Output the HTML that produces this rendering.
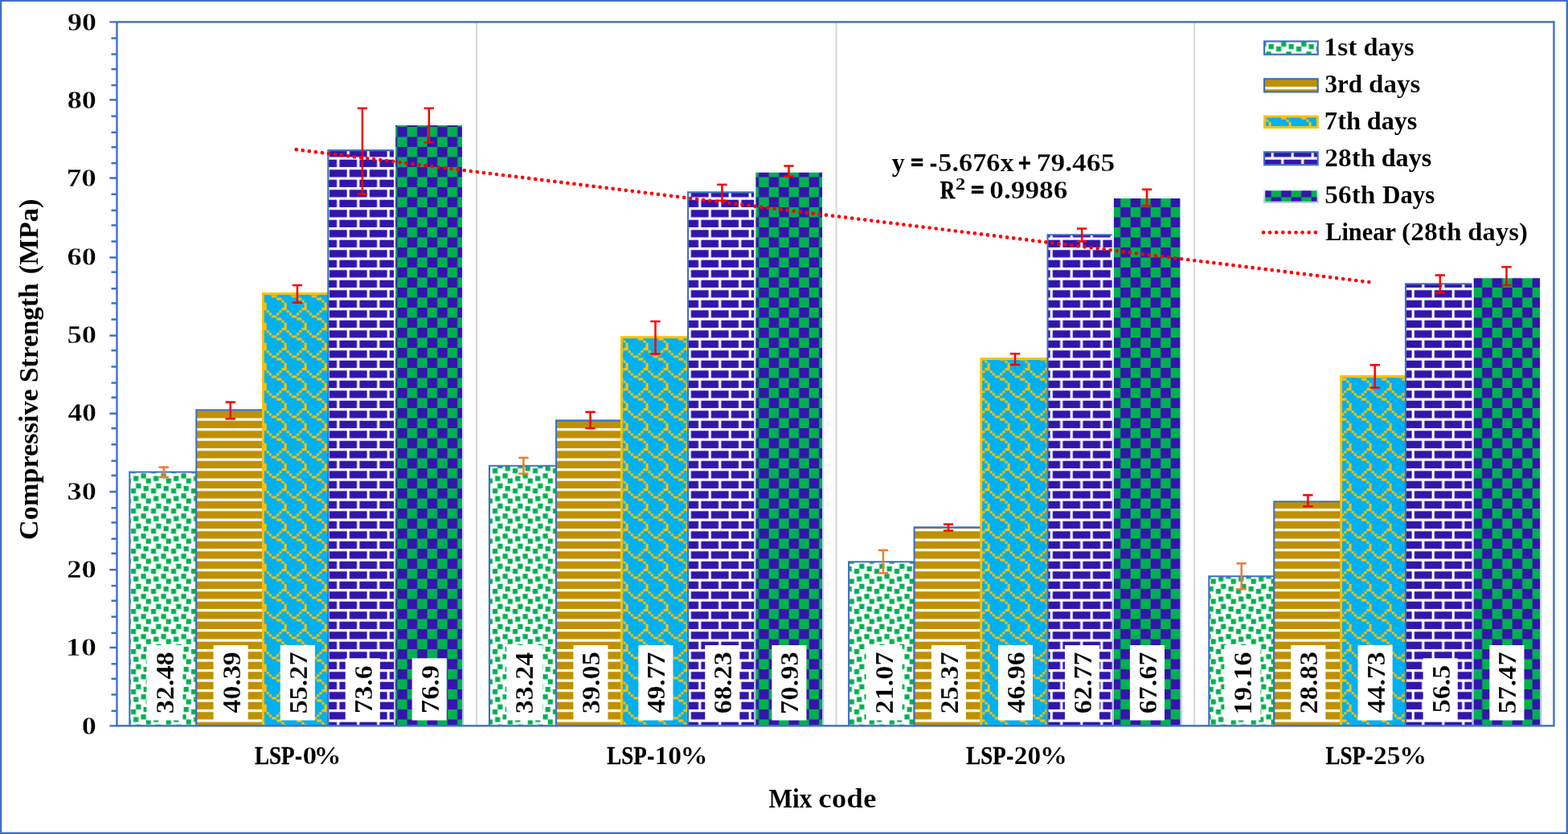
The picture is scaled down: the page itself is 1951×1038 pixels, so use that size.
<!DOCTYPE html>
<html><head><meta charset="utf-8"><title>Compressive Strength chart</title><style>html,body{margin:0;padding:0;background:#fff;}svg{display:block;}</style></head><body><svg width="1951" height="1038" viewBox="0 0 1951 1038" font-family="'Liberation Serif', serif" font-weight="bold" fill="#000"><defs><pattern id="p1" patternUnits="userSpaceOnUse" x="6.65" y="7.9" width="25" height="25"><rect x="-1" y="-1" width="27" height="27" fill="#FFFFFF"/><path d="M0 0h3.125v3.125h-3.125zM0 21.875h3.125v3.125h-3.125zM6.25 0h6.25v6.25h-6.25zM21.875 0h3.125v3.125h-3.125zM21.875 21.875h3.125v3.125h-3.125zM18.75 6.25h6.25v6.25h-6.25zM9.375 9.375h6.25v6.25h-6.25zM0 12.5h6.25v6.25h-6.25zM12.5 18.75h6.25v6.25h-6.25z" fill="#00B050"/></pattern><pattern id="p2" patternUnits="userSpaceOnUse" x="6.65" y="7.9" width="25" height="25"><rect x="-1" y="-1" width="27" height="27" fill="#BF9000"/><path d="M0 0h25v3.125h-25zM0 12.5h25v3.125h-25z" fill="#FFFFFF"/></pattern><pattern id="p3" patternUnits="userSpaceOnUse" x="6.65" y="7.9" width="25" height="25"><rect x="-1" y="-1" width="27" height="27" fill="#00B0F0"/><path d="M18.75 0h6.25v3.125h-6.25zM0 3.125h3.125v3.125h-3.125zM15.625 3.125h3.125v3.125h-3.125zM3.125 6.25h3.125v3.125h-3.125zM12.5 6.25h3.125v3.125h-3.125zM6.25 9.375h6.25v3.125h-6.25zM12.5 12.5h6.25v3.125h-6.25zM18.75 15.625h3.125v3.125h-3.125zM21.875 18.75h3.125v6.25h-3.125z" fill="#FFC000"/></pattern><pattern id="p4" patternUnits="userSpaceOnUse" x="6.65" y="7.9" width="25" height="25"><rect x="-1" y="-1" width="27" height="27" fill="#3315AB"/><path d="M0 0h25v3.125h-25zM0 12.5h25v3.125h-25zM0 3.125h3.125v9.375h-3.125zM12.5 15.625h3.125v9.375h-3.125z" fill="#FFFFFF"/></pattern><pattern id="p5" patternUnits="userSpaceOnUse" x="6.65" y="7.9" width="25" height="25"><rect x="-1" y="-1" width="27" height="27" fill="#00B050"/><path d="M12.5 0h12.5v12.5h-12.5zM0 12.5h12.5v12.5h-12.5z" fill="#3315AB"/></pattern><linearGradient id="g5" x1="0" y1="0" x2="0" y2="1"><stop offset="0" stop-color="#F4F6FC"/><stop offset="1" stop-color="#B4C3E8"/></linearGradient><linearGradient id="g5b" x1="0" y1="0" x2="0" y2="1"><stop offset="0" stop-color="#EEF1FA"/><stop offset="1" stop-color="#B4C3E8"/></linearGradient></defs>
<rect x="0" y="0" width="1951" height="1038" fill="#FFFFFF"/>
<g stroke="#D9D9D9" stroke-width="2.1">
<line x1="592.85" y1="27.35" x2="592.85" y2="903.35"/>
<line x1="1040.5" y1="27.35" x2="1040.5" y2="903.35"/>
<line x1="1486.2" y1="27.35" x2="1486.2" y2="903.35"/>
</g>
<rect x="161.30" y="587.50" width="83.00" height="315.85" fill="url(#p1)"/>
<path d="M161.30 903.35V587.50H244.30V903.35" fill="none" stroke="#4070C3" stroke-width="2.1"/>
<rect x="244.30" y="510.40" width="82.90" height="392.95" fill="url(#p2)"/>
<path d="M244.30 903.35V510.40H327.20V903.35" fill="none" stroke="#4070C3" stroke-width="2.1"/>
<rect x="327.20" y="365.50" width="83.00" height="537.85" fill="url(#p3)"/>
<path d="M327.35 903.35V365.50H410.20V903.35" fill="none" stroke="#FFC000" stroke-width="2.9"/>
<rect x="408.30" y="187.10" width="82.75" height="716.25" fill="url(#p4)"/>
<path d="M408.30 903.35V187.10H491.05V903.35" fill="none" stroke="#4070C3" stroke-width="2.1"/>
<rect x="491.05" y="154.95" width="85.00" height="748.40" fill="url(#p5)"/>
<path d="M491.05 903.35V154.95H576.05V903.35" fill="none" stroke="url(#g5)" stroke-width="2.25"/>
<rect x="608.90" y="579.70" width="83.10" height="323.65" fill="url(#p1)"/>
<path d="M608.90 903.35V579.70H692.00V903.35" fill="none" stroke="#4070C3" stroke-width="2.1"/>
<rect x="692.00" y="523.40" width="81.20" height="379.95" fill="url(#p2)"/>
<path d="M692.00 903.35V523.40H773.20V903.35" fill="none" stroke="#4070C3" stroke-width="2.1"/>
<rect x="773.20" y="419.80" width="83.00" height="483.55" fill="url(#p3)"/>
<path d="M773.35 903.35V419.80H856.20V903.35" fill="none" stroke="#FFC000" stroke-width="2.9"/>
<rect x="856.10" y="239.40" width="83.20" height="663.95" fill="url(#p4)"/>
<path d="M856.10 903.35V239.40H939.30V903.35" fill="none" stroke="#4070C3" stroke-width="2.1"/>
<rect x="939.30" y="213.50" width="84.80" height="689.85" fill="url(#p5)"/>
<path d="M939.30 903.35V213.50H1024.10V903.35" fill="none" stroke="url(#g5)" stroke-width="2.25"/>
<rect x="1056.10" y="699.30" width="81.50" height="204.05" fill="url(#p1)"/>
<path d="M1056.10 903.35V699.30H1137.60V903.35" fill="none" stroke="#4070C3" stroke-width="2.1"/>
<rect x="1137.60" y="656.40" width="83.00" height="246.95" fill="url(#p2)"/>
<path d="M1137.60 903.35V656.40H1220.60V903.35" fill="none" stroke="#4070C3" stroke-width="2.1"/>
<rect x="1220.60" y="446.55" width="83.00" height="456.80" fill="url(#p3)"/>
<path d="M1220.75 903.35V446.55H1303.60V903.35" fill="none" stroke="#FFC000" stroke-width="2.9"/>
<rect x="1303.55" y="292.20" width="81.25" height="611.15" fill="url(#p4)"/>
<path d="M1303.55 903.35V292.20H1384.80V903.35" fill="none" stroke="#4070C3" stroke-width="2.1"/>
<rect x="1384.80" y="245.90" width="84.70" height="657.45" fill="url(#p5)"/>
<path d="M1384.80 903.35V245.90H1469.50V903.35" fill="none" stroke="url(#g5)" stroke-width="2.25"/>
<rect x="1504.30" y="717.20" width="80.95" height="186.15" fill="url(#p1)"/>
<path d="M1504.30 903.35V717.20H1585.25V903.35" fill="none" stroke="#4070C3" stroke-width="2.1"/>
<rect x="1585.25" y="624.30" width="83.20" height="279.05" fill="url(#p2)"/>
<path d="M1585.25 903.35V624.30H1668.45V903.35" fill="none" stroke="#4070C3" stroke-width="2.1"/>
<rect x="1668.45" y="468.55" width="83.00" height="434.80" fill="url(#p3)"/>
<path d="M1668.60 903.35V468.55H1751.45V903.35" fill="none" stroke="#FFC000" stroke-width="2.9"/>
<rect x="1749.00" y="353.30" width="83.60" height="550.05" fill="url(#p4)"/>
<path d="M1749.00 903.35V353.30H1832.60V903.35" fill="none" stroke="#4070C3" stroke-width="2.1"/>
<rect x="1832.60" y="345.05" width="84.60" height="558.30" fill="url(#p5)"/>
<path d="M1832.60 903.35V345.05H1917.20V903.35" fill="none" stroke="url(#g5)" stroke-width="2.25"/>
<rect x="145.45" y="27.35" width="1788.0" height="876.0" fill="none" stroke="#4070C3" stroke-width="2.4"/>
<g stroke="#4070C3" stroke-width="2.5">
<line x1="138.5" y1="47.55" x2="145.45" y2="47.55"/>
<line x1="138.5" y1="67.50" x2="145.45" y2="67.50"/>
<line x1="138.5" y1="86.10" x2="145.45" y2="86.10"/>
<line x1="138.5" y1="106.05" x2="145.45" y2="106.05"/>
<line x1="136.4" y1="124.30" x2="145.45" y2="124.30"/>
<line x1="138.5" y1="144.60" x2="145.45" y2="144.60"/>
<line x1="138.5" y1="164.80" x2="145.45" y2="164.80"/>
<line x1="138.5" y1="183.20" x2="145.45" y2="183.20"/>
<line x1="138.5" y1="203.10" x2="145.45" y2="203.10"/>
<line x1="136.4" y1="221.60" x2="145.45" y2="221.60"/>
<line x1="138.5" y1="241.80" x2="145.45" y2="241.80"/>
<line x1="138.5" y1="261.90" x2="145.45" y2="261.90"/>
<line x1="138.5" y1="280.40" x2="145.45" y2="280.40"/>
<line x1="138.5" y1="300.50" x2="145.45" y2="300.50"/>
<line x1="136.4" y1="320.50" x2="145.45" y2="320.50"/>
<line x1="138.5" y1="338.65" x2="145.45" y2="338.65"/>
<line x1="138.5" y1="359.20" x2="145.45" y2="359.20"/>
<line x1="138.5" y1="377.40" x2="145.45" y2="377.40"/>
<line x1="138.5" y1="397.60" x2="145.45" y2="397.60"/>
<line x1="136.4" y1="417.65" x2="145.45" y2="417.65"/>
<line x1="138.5" y1="436.20" x2="145.45" y2="436.20"/>
<line x1="138.5" y1="456.40" x2="145.45" y2="456.40"/>
<line x1="138.5" y1="476.50" x2="145.45" y2="476.50"/>
<line x1="138.5" y1="494.70" x2="145.45" y2="494.70"/>
<line x1="136.4" y1="514.70" x2="145.45" y2="514.70"/>
<line x1="138.5" y1="533.10" x2="145.45" y2="533.10"/>
<line x1="138.5" y1="553.20" x2="145.45" y2="553.20"/>
<line x1="138.5" y1="573.60" x2="145.45" y2="573.60"/>
<line x1="138.5" y1="591.80" x2="145.45" y2="591.80"/>
<line x1="136.4" y1="612.00" x2="145.45" y2="612.00"/>
<line x1="138.5" y1="632.20" x2="145.45" y2="632.20"/>
<line x1="138.5" y1="650.40" x2="145.45" y2="650.40"/>
<line x1="138.5" y1="670.60" x2="145.45" y2="670.60"/>
<line x1="138.5" y1="688.80" x2="145.45" y2="688.80"/>
<line x1="136.4" y1="709.10" x2="145.45" y2="709.10"/>
<line x1="138.5" y1="729.05" x2="145.45" y2="729.05"/>
<line x1="138.5" y1="747.70" x2="145.45" y2="747.70"/>
<line x1="138.5" y1="767.60" x2="145.45" y2="767.60"/>
<line x1="138.5" y1="787.90" x2="145.45" y2="787.90"/>
<line x1="136.4" y1="806.00" x2="145.45" y2="806.00"/>
<line x1="138.5" y1="826.30" x2="145.45" y2="826.30"/>
<line x1="138.5" y1="844.80" x2="145.45" y2="844.80"/>
<line x1="138.5" y1="864.50" x2="145.45" y2="864.50"/>
<line x1="138.5" y1="884.80" x2="145.45" y2="884.80"/>
</g>
<path d="M136.4 27.35H145.45M136.4 903.35H145.45" stroke="#4070C3" stroke-width="2.3" fill="none"/>
<rect x="182.45" y="803.0" width="45.0" height="93.50" fill="#FFFFFF"/>
<text transform="rotate(-90)" y="215.55" font-size="31.1"><tspan x="-888.28" textLength="77.00" lengthAdjust="spacingAndGlyphs" stroke="#fff" stroke-width="0.18">32.48</tspan></text>
<rect x="265.55" y="803.0" width="43.1" height="93.50" fill="#FFFFFF"/>
<text transform="rotate(-90)" y="298.50" font-size="31.1"><tspan x="-887.42" textLength="76.21" lengthAdjust="spacingAndGlyphs" stroke="#fff" stroke-width="0.16">40.39</tspan></text>
<rect x="348.75" y="803.0" width="43.1" height="93.50" fill="#FFFFFF"/>
<text transform="rotate(-90)" y="381.70" font-size="31.1"><tspan x="-888.37" textLength="76.82" lengthAdjust="spacingAndGlyphs" stroke="#fff" stroke-width="0.18">55.27</tspan></text>
<rect x="429.72" y="819.3" width="43.1" height="77.20" fill="#FFFFFF"/>
<text transform="rotate(-90)" y="462.67" font-size="31.1"><tspan x="-887.97" textLength="59.89" lengthAdjust="spacingAndGlyphs" stroke="#fff" stroke-width="0.18">73.6</tspan></text>
<rect x="512.65" y="819.3" width="43.1" height="77.20" fill="#FFFFFF"/>
<text transform="rotate(-90)" y="545.60" font-size="31.1"><tspan x="-887.97" textLength="60.08" lengthAdjust="spacingAndGlyphs" stroke="#fff" stroke-width="0.19">76.9</tspan></text>
<rect x="630.10" y="803.0" width="45.0" height="93.50" fill="#FFFFFF"/>
<text transform="rotate(-90)" y="663.20" font-size="31.1"><tspan x="-888.27" textLength="76.47" lengthAdjust="spacingAndGlyphs" stroke="#fff" stroke-width="0.17">33.24</tspan></text>
<rect x="713.35" y="803.0" width="43.1" height="93.50" fill="#FFFFFF"/>
<text transform="rotate(-90)" y="746.30" font-size="31.1"><tspan x="-888.29" textLength="77.17" lengthAdjust="spacingAndGlyphs" stroke="#fff" stroke-width="0.19">39.05</tspan></text>
<rect x="794.35" y="803.0" width="43.1" height="93.50" fill="#FFFFFF"/>
<text transform="rotate(-90)" y="827.30" font-size="31.1"><tspan x="-887.42" textLength="75.86" lengthAdjust="spacingAndGlyphs" stroke="#fff" stroke-width="0.15">49.77</tspan></text>
<rect x="877.25" y="803.0" width="43.1" height="93.50" fill="#FFFFFF"/>
<text transform="rotate(-90)" y="910.20" font-size="31.1"><tspan x="-888.20" textLength="77.00" lengthAdjust="spacingAndGlyphs" stroke="#fff" stroke-width="0.18">68.23</tspan></text>
<rect x="960.35" y="803.0" width="43.1" height="93.50" fill="#FFFFFF"/>
<text transform="rotate(-90)" y="993.30" font-size="31.1"><tspan x="-888.99" textLength="77.80" lengthAdjust="spacingAndGlyphs" stroke="#fff" stroke-width="0.20">70.93</tspan></text>
<rect x="1077.60" y="803.0" width="45.0" height="93.50" fill="#FFFFFF"/>
<text transform="rotate(-90)" y="1110.70" font-size="31.1"><tspan x="-888.45" textLength="76.91" lengthAdjust="spacingAndGlyphs" stroke="#fff" stroke-width="0.18">21.07</tspan></text>
<rect x="1158.85" y="803.0" width="43.1" height="93.50" fill="#FFFFFF"/>
<text transform="rotate(-90)" y="1191.80" font-size="31.1"><tspan x="-888.45" textLength="76.91" lengthAdjust="spacingAndGlyphs" stroke="#fff" stroke-width="0.18">25.37</tspan></text>
<rect x="1241.90" y="803.0" width="43.1" height="93.50" fill="#FFFFFF"/>
<text transform="rotate(-90)" y="1274.85" font-size="31.1"><tspan x="-887.42" textLength="76.04" lengthAdjust="spacingAndGlyphs" stroke="#fff" stroke-width="0.16">46.96</tspan></text>
<rect x="1324.95" y="803.0" width="43.1" height="93.50" fill="#FFFFFF"/>
<text transform="rotate(-90)" y="1357.90" font-size="31.1"><tspan x="-888.19" textLength="76.64" lengthAdjust="spacingAndGlyphs" stroke="#fff" stroke-width="0.17">62.77</tspan></text>
<rect x="1405.90" y="803.0" width="43.1" height="93.50" fill="#FFFFFF"/>
<text transform="rotate(-90)" y="1438.85" font-size="31.1"><tspan x="-888.19" textLength="76.64" lengthAdjust="spacingAndGlyphs" stroke="#fff" stroke-width="0.17">67.67</tspan></text>
<rect x="1523.40" y="803.0" width="45.0" height="93.50" fill="#FFFFFF"/>
<text transform="rotate(-90)" y="1556.50" font-size="31.1"><tspan x="-889.79" textLength="78.43" lengthAdjust="spacingAndGlyphs" stroke="#fff" stroke-width="0.22">19.16</tspan></text>
<rect x="1606.25" y="803.0" width="43.1" height="93.50" fill="#FFFFFF"/>
<text transform="rotate(-90)" y="1639.20" font-size="31.1"><tspan x="-888.46" textLength="77.26" lengthAdjust="spacingAndGlyphs" stroke="#fff" stroke-width="0.19">28.83</tspan></text>
<rect x="1689.55" y="803.0" width="43.1" height="93.50" fill="#FFFFFF"/>
<text transform="rotate(-90)" y="1722.50" font-size="31.1"><tspan x="-887.42" textLength="76.21" lengthAdjust="spacingAndGlyphs" stroke="#fff" stroke-width="0.16">44.73</tspan></text>
<rect x="1770.65" y="819.3" width="43.1" height="77.20" fill="#FFFFFF"/>
<text transform="rotate(-90)" y="1803.60" font-size="31.1"><tspan x="-887.36" textLength="59.54" lengthAdjust="spacingAndGlyphs" stroke="#fff" stroke-width="0.17">56.5</tspan></text>
<rect x="1853.35" y="803.0" width="43.1" height="93.50" fill="#FFFFFF"/>
<text transform="rotate(-90)" y="1886.30" font-size="31.1"><tspan x="-888.37" textLength="76.82" lengthAdjust="spacingAndGlyphs" stroke="#fff" stroke-width="0.18">57.47</tspan></text>
<path d="M197.55 581.40H209.95M203.75 581.40V593.70M197.55 593.70H209.95" stroke="#ED7D31" stroke-width="2.5" fill="none"/>
<path d="M280.50 500.50H292.90M286.70 500.50V521.30M280.50 521.30H292.90" stroke="#FF0000" stroke-width="2.5" fill="none"/>
<path d="M363.70 355.10H376.10M369.90 355.10V376.80M363.70 376.80H376.10" stroke="#FF0000" stroke-width="2.5" fill="none"/>
<path d="M444.67 134.80H457.07M450.87 134.80V241.80M444.67 241.80H457.07" stroke="#FF0000" stroke-width="2.5" fill="none"/>
<path d="M527.60 134.80H540.00M533.80 134.80V177.20M527.60 177.20H540.00" stroke="#FF0000" stroke-width="2.5" fill="none"/>
<path d="M645.20 569.70H657.60M651.40 569.70V589.60M645.20 589.60H657.60" stroke="#ED7D31" stroke-width="2.5" fill="none"/>
<path d="M728.30 512.70H740.70M734.50 512.70V532.90M728.30 532.90H740.70" stroke="#FF0000" stroke-width="2.5" fill="none"/>
<path d="M809.30 399.90H821.70M815.50 399.90V440.45M809.30 440.45H821.70" stroke="#FF0000" stroke-width="2.5" fill="none"/>
<path d="M892.20 229.70H904.60M898.40 229.70V249.70M892.20 249.70H904.60" stroke="#FF0000" stroke-width="2.5" fill="none"/>
<path d="M975.30 206.60H987.70M981.50 206.60V219.50M975.30 219.50H987.70" stroke="#FF0000" stroke-width="2.5" fill="none"/>
<path d="M1092.70 684.80H1105.10M1098.90 684.80V713.20M1092.70 713.20H1105.10" stroke="#ED7D31" stroke-width="2.5" fill="none"/>
<path d="M1173.80 652.50H1186.20M1180.00 652.50V660.50M1173.80 660.50H1186.20" stroke="#FF0000" stroke-width="2.5" fill="none"/>
<path d="M1256.85 440.20H1269.25M1263.05 440.20V454.10M1256.85 454.10H1269.25" stroke="#FF0000" stroke-width="2.5" fill="none"/>
<path d="M1339.90 284.40H1352.30M1346.10 284.40V300.40M1339.90 300.40H1352.30" stroke="#FF0000" stroke-width="2.5" fill="none"/>
<path d="M1420.85 235.85H1433.25M1427.05 235.85V255.90M1420.85 255.90H1433.25" stroke="#FF0000" stroke-width="2.5" fill="none"/>
<path d="M1538.50 701.30H1550.90M1544.70 701.30V733.20M1538.50 733.20H1550.90" stroke="#ED7D31" stroke-width="2.5" fill="none"/>
<path d="M1621.20 616.20H1633.60M1627.40 616.20V630.20M1621.20 630.20H1633.60" stroke="#FF0000" stroke-width="2.5" fill="none"/>
<path d="M1704.50 454.15H1716.90M1710.70 454.15V482.55M1704.50 482.55H1716.90" stroke="#FF0000" stroke-width="2.5" fill="none"/>
<path d="M1785.60 342.40H1798.00M1791.80 342.40V364.60M1785.60 364.60H1798.00" stroke="#FF0000" stroke-width="2.5" fill="none"/>
<path d="M1868.30 332.30H1880.70M1874.50 332.30V355.00M1868.30 355.00H1880.70" stroke="#FF0000" stroke-width="2.5" fill="none"/>
<line x1="368.7" y1="186.2" x2="1705.712" y2="351.348" stroke="#FF0000" stroke-width="4.7" stroke-linecap="round" stroke-dasharray="0 8.1009"/>
<text y="913.55" font-size="30.9"><tspan x="101.75" textLength="18.06" lengthAdjust="spacingAndGlyphs" stroke="#fff" stroke-width="0.30">0</tspan></text>
<text y="816.22" font-size="30.9"><tspan x="81.85" textLength="38.07" lengthAdjust="spacingAndGlyphs" stroke="#fff" stroke-width="0.42">10</tspan></text>
<text y="718.88" font-size="30.9"><tspan x="83.35" textLength="36.52" lengthAdjust="spacingAndGlyphs" stroke="#fff" stroke-width="0.33">20</tspan></text>
<text y="621.55" font-size="30.9"><tspan x="83.54" textLength="36.32" lengthAdjust="spacingAndGlyphs" stroke="#fff" stroke-width="0.32">30</tspan></text>
<text y="524.22" font-size="30.9"><tspan x="84.46" textLength="35.37" lengthAdjust="spacingAndGlyphs" stroke="#fff" stroke-width="0.26">40</tspan></text>
<text y="426.88" font-size="30.9"><tspan x="83.44" textLength="36.42" lengthAdjust="spacingAndGlyphs" stroke="#fff" stroke-width="0.32">50</tspan></text>
<text y="329.55" font-size="30.9"><tspan x="83.63" textLength="36.23" lengthAdjust="spacingAndGlyphs" stroke="#fff" stroke-width="0.31">60</tspan></text>
<text y="232.22" font-size="30.9"><tspan x="82.77" textLength="37.13" lengthAdjust="spacingAndGlyphs" stroke="#fff" stroke-width="0.36">70</tspan></text>
<text y="134.88" font-size="30.9"><tspan x="83.73" textLength="36.13" lengthAdjust="spacingAndGlyphs" stroke="#fff" stroke-width="0.30">80</tspan></text>
<text y="37.55" font-size="30.9"><tspan x="83.91" textLength="35.94" lengthAdjust="spacingAndGlyphs" stroke="#fff" stroke-width="0.29">90</tspan></text>
<text y="951.10" font-size="31.0"><tspan x="317.10" textLength="49.41" lengthAdjust="spacingAndGlyphs" stroke="#000" stroke-width="0.40">LSP</tspan><tspan x="367.27" textLength="8.47" lengthAdjust="spacingAndGlyphs" stroke="#000" stroke-width="0.90">-</tspan><tspan x="376.61" textLength="17.82" lengthAdjust="spacingAndGlyphs" stroke="#fff" stroke-width="0.27">0</tspan><tspan x="390.61" textLength="34.02" lengthAdjust="spacingAndGlyphs" stroke="#fff" stroke-width="0.18">%</tspan></text>
<text y="951.10" font-size="31.0"><tspan x="755.30" textLength="49.41" lengthAdjust="spacingAndGlyphs" stroke="#000" stroke-width="0.40">LSP</tspan><tspan x="805.47" textLength="8.47" lengthAdjust="spacingAndGlyphs" stroke="#000" stroke-width="0.90">-</tspan><tspan x="814.51" textLength="33.65" lengthAdjust="spacingAndGlyphs" stroke="#fff" stroke-width="0.15">10</tspan><tspan x="846.61" textLength="34.02" lengthAdjust="spacingAndGlyphs" stroke="#fff" stroke-width="0.18">%</tspan></text>
<text y="951.10" font-size="31.0"><tspan x="1202.30" textLength="49.41" lengthAdjust="spacingAndGlyphs" stroke="#000" stroke-width="0.40">LSP</tspan><tspan x="1252.47" textLength="8.47" lengthAdjust="spacingAndGlyphs" stroke="#000" stroke-width="0.90">-</tspan><tspan x="1261.88" textLength="33.37" lengthAdjust="spacingAndGlyphs" stroke="#fff" stroke-width="0.14">20</tspan><tspan x="1294.11" textLength="34.02" lengthAdjust="spacingAndGlyphs" stroke="#fff" stroke-width="0.18">%</tspan></text>
<text y="951.10" font-size="31.0"><tspan x="1649.55" textLength="49.41" lengthAdjust="spacingAndGlyphs" stroke="#000" stroke-width="0.40">LSP</tspan><tspan x="1699.72" textLength="8.47" lengthAdjust="spacingAndGlyphs" stroke="#000" stroke-width="0.90">-</tspan><tspan x="1709.13" textLength="33.42" lengthAdjust="spacingAndGlyphs" stroke="#fff" stroke-width="0.14">25</tspan><tspan x="1741.31" textLength="34.02" lengthAdjust="spacingAndGlyphs" stroke="#fff" stroke-width="0.18">%</tspan></text>
<text y="1004.90" font-size="33.1"><tspan x="956.45" textLength="53.93" lengthAdjust="spacingAndGlyphs">Mix</tspan> <tspan x="1018.20" textLength="72.39" lengthAdjust="spacingAndGlyphs" stroke="#fff" stroke-width="0.23">code</tspan></text>
<text transform="rotate(-90)" y="46.85" font-size="33.0"><tspan x="-671.91" textLength="187.71" lengthAdjust="spacingAndGlyphs">Compressive</tspan> <tspan x="-475.95" textLength="123.51" lengthAdjust="spacingAndGlyphs">Strength</tspan> <tspan x="-341.25" textLength="93.84" lengthAdjust="spacingAndGlyphs">(MPa)</tspan></text>
<rect x="1573.10" y="51.45" width="66.60" height="16.30" fill="url(#p1)" stroke="#4070C3" stroke-width="2.2"/>
<text y="68.85" font-size="30.5"><tspan x="1646.96" textLength="41.80" lengthAdjust="spacingAndGlyphs" stroke="#fff" stroke-width="0.22">1st</tspan> <tspan x="1696.50" textLength="63.22" lengthAdjust="spacingAndGlyphs" stroke="#fff" stroke-width="0.12">days</tspan></text>
<rect x="1573.10" y="98.2" width="66.60" height="16.20" fill="url(#p2)" stroke="#4070C3" stroke-width="2.2"/>
<text y="115.10" font-size="30.5"><tspan x="1648.54" textLength="46.47" lengthAdjust="spacingAndGlyphs">3rd</tspan> <tspan x="1702.97" textLength="64.47" lengthAdjust="spacingAndGlyphs" stroke="#fff" stroke-width="0.16">days</tspan></text>
<rect x="1573.50" y="145.0" width="65.80" height="13.50" fill="url(#p3)" stroke="#FFC000" stroke-width="3.0"/>
<text y="161.00" font-size="30.5"><tspan x="1647.82" textLength="45.53" lengthAdjust="spacingAndGlyphs" stroke="#fff" stroke-width="0.13">7th</tspan> <tspan x="1700.81" textLength="62.60" lengthAdjust="spacingAndGlyphs">days</tspan></text>
<rect x="1573.10" y="189.3" width="66.60" height="15.90" fill="url(#p4)" stroke="#4070C3" stroke-width="2.2"/>
<text y="207.00" font-size="30.5"><tspan x="1648.28" textLength="63.08" lengthAdjust="spacingAndGlyphs" stroke="#fff" stroke-width="0.17">28th</tspan> <tspan x="1718.71" textLength="62.60" lengthAdjust="spacingAndGlyphs">days</tspan></text>
<rect x="1573.10" y="236.2" width="66.60" height="15.50" fill="url(#p5)" stroke="url(#g5b)" stroke-width="2.2"/>
<text y="253.30" font-size="30.5"><tspan x="1648.37" textLength="62.99" lengthAdjust="spacingAndGlyphs" stroke="#fff" stroke-width="0.17">56th</tspan> <tspan x="1720.36" textLength="64.77" lengthAdjust="spacingAndGlyphs">Days</tspan></text>
<line x1="1572" y1="289.35" x2="1637" y2="289.35" stroke="#FF0000" stroke-width="4.7" stroke-linecap="round" stroke-dasharray="0 8.1"/>
<text y="299.30" font-size="30.5"><tspan x="1649.17" textLength="87.17" lengthAdjust="spacingAndGlyphs">Linear</tspan> <tspan x="1744.09" textLength="74.59" lengthAdjust="spacingAndGlyphs" stroke="#fff" stroke-width="0.18">(28th</tspan> <tspan x="1826.39" textLength="74.53" lengthAdjust="spacingAndGlyphs" stroke="#fff" stroke-width="0.13">days)</tspan></text>
<text y="212.65" font-size="31"><tspan x="1109.68" textLength="15.94" lengthAdjust="spacingAndGlyphs">y</tspan> <tspan x="1133.13" textLength="16.02" lengthAdjust="spacingAndGlyphs" stroke="#000" stroke-width="1.30">=</tspan> <tspan x="1157.14" textLength="8.36" lengthAdjust="spacingAndGlyphs" stroke="#000" stroke-width="1.20">-</tspan><tspan x="1167.33" textLength="94.24" lengthAdjust="spacingAndGlyphs" stroke="#fff" stroke-width="0.19">5.676x</tspan> <tspan x="1267.08" textLength="15.68" lengthAdjust="spacingAndGlyphs" stroke="#000" stroke-width="1.30">+</tspan> <tspan x="1289.66" textLength="97.73" lengthAdjust="spacingAndGlyphs" stroke="#fff" stroke-width="0.26">79.465</tspan></text>
<text y="246.75" font-size="31"><tspan x="1169.67" textLength="18.32" lengthAdjust="spacingAndGlyphs" stroke="#000" stroke-width="0.52">R</tspan><tspan x="1189.01" textLength="12.23" lengthAdjust="spacingAndGlyphs" font-size="20.3" dy="-11.15">2</tspan> <tspan x="1208.05" textLength="16.64" lengthAdjust="spacingAndGlyphs" dy="11.15" stroke="#000" stroke-width="1.30">=</tspan> <tspan x="1231.38" textLength="96.98" lengthAdjust="spacingAndGlyphs" stroke="#fff" stroke-width="0.25">0.9986</tspan></text>
<rect x="0" y="0" width="2.3" height="1038" fill="#4070C3"/>
<rect x="1948.6" y="0" width="2.4" height="1038" fill="#4070C3"/>
<rect x="0" y="0" width="1951" height="2.0" fill="#4070C3"/>
<rect x="0" y="1035.7" width="1951" height="2.3" fill="#4070C3"/></svg></body></html>
